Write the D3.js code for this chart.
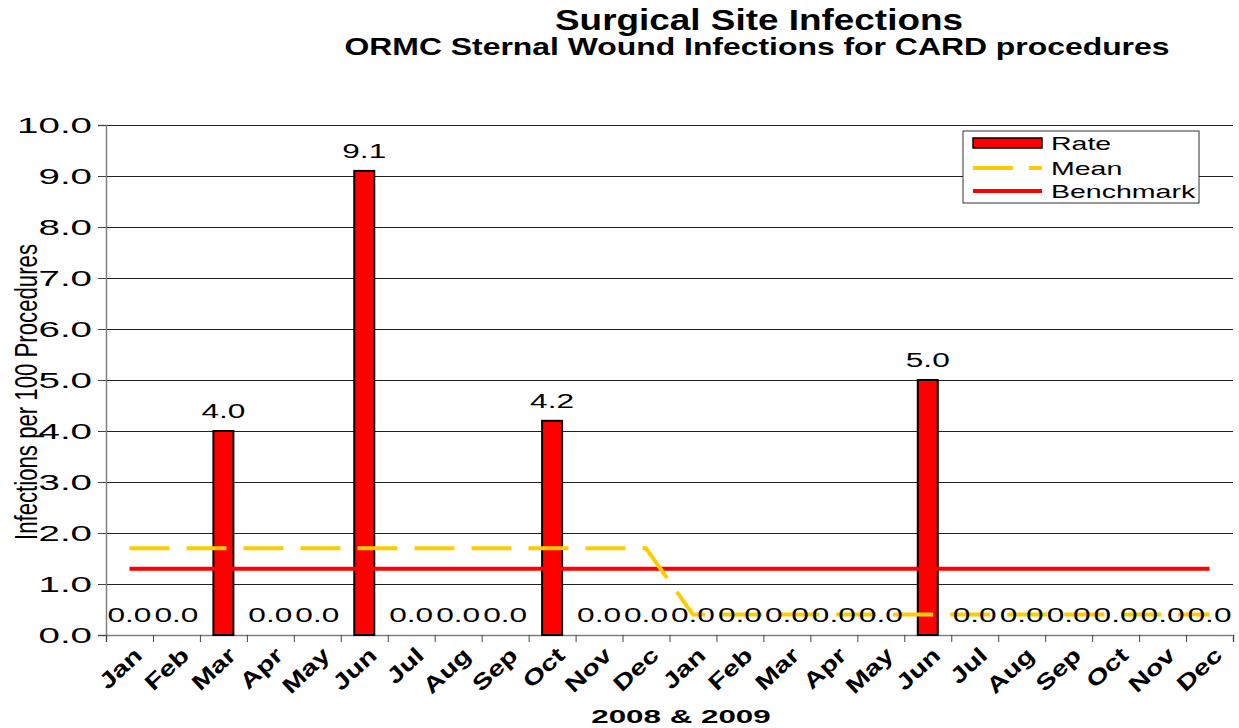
<!DOCTYPE html>
<html>
<head>
<meta charset="utf-8">
<script src="https://cdn.jsdelivr.net/npm/d3@7/dist/d3.min.js"></script>
<style>
  html, body { margin: 0; padding: 0; background: #fff; }
  svg { display: block; }
  text { font-family: "Liberation Sans", Arial, sans-serif; fill: #000; }
</style>
</head>
<body>
<svg id="chart" width="1239" height="728"></svg>
<script>
// ---- data ----
const categories = ["Jan","Feb","Mar","Apr","May","Jun","Jul","Aug","Sep","Oct","Nov","Dec",
                    "Jan","Feb","Mar","Apr","May","Jun","Jul","Aug","Sep","Oct","Nov","Dec"];
const rateValues = [0.0, 0.0, 4.0, 0.0, 0.0, 9.1, 0.0, 0.0, 0.0, 4.2, 0.0, 0.0,
                    0.0, 0.0, 0.0, 0.0, 0.0, 5.0, 0.0, 0.0, 0.0, 0.0, 0.0, 0.0];
const meanValues = [1.7, 1.7, 1.7, 1.7, 1.7, 1.7, 1.7, 1.7, 1.7, 1.7, 1.7, 1.7,
                    0.4, 0.4, 0.4, 0.4, 0.4, 0.4, 0.4, 0.4, 0.4, 0.4, 0.4, 0.4];
const benchmarkValues = [1.3, 1.3, 1.3, 1.3, 1.3, 1.3, 1.3, 1.3, 1.3, 1.3, 1.3, 1.3,
                         1.3, 1.3, 1.3, 1.3, 1.3, 1.3, 1.3, 1.3, 1.3, 1.3, 1.3, 1.3];
const yTickValues = [0, 1, 2, 3, 4, 5, 6, 7, 8, 9, 10];
const titleText = "Surgical Site Infections";
const subtitleText = "ORMC Sternal Wound Infections for CARD procedures";
const yAxisTitle = "Infections per 100 Procedures";
const xAxisTitle = "2008 & 2009";
const legendNames = ["Rate", "Mean", "Benchmark"];

// ---- layout ----
const svg = d3.select("#chart");
const plot = { left: 106, right: 1233, top: 125, bottom: 635 };

const idx = d3.range(categories.length);
const x = d3.scaleBand().domain(idx).range([plot.left, plot.right]).paddingInner(0).paddingOuter(0);
const xEdge = d3.scaleLinear().domain([0, categories.length]).range([plot.left, plot.right]);
const y = d3.scaleLinear().domain([0, 10]).range([plot.bottom, plot.top]);
const cx = i => x(i) + x.bandwidth() / 2;

// stretch helper: widen glyphs like the reference
function stretch(sel, factor) {
  sel.each(function() {
    const w = this.getComputedTextLength();
    d3.select(this).attr("textLength", w * factor).attr("lengthAdjust", "spacingAndGlyphs");
  });
}
function fitTo(sel, width) {
  sel.attr("textLength", width).attr("lengthAdjust", "spacingAndGlyphs");
}

// ---- gridlines ----
svg.append("g")
  .attr("transform", `translate(${plot.left},0)`)
  .call(d3.axisLeft(y).tickValues(yTickValues).tickSize(-(plot.right - plot.left)).tickFormat(""))
  .call(g => g.select(".domain").remove())
  .call(g => g.selectAll("line").attr("stroke", "#222").attr("stroke-width", 1));

// ---- y axis ----
const yAxisG = svg.append("g")
  .attr("transform", `translate(${plot.left},0)`)
  .call(d3.axisLeft(y).tickValues(yTickValues).tickSize(8).tickPadding(6).tickFormat(d3.format(".1f")));
yAxisG.select(".domain").attr("stroke", "#808080").attr("stroke-width", 1.5);
yAxisG.selectAll(".tick line").attr("stroke", "#444");
yAxisG.selectAll("text").attr("font-size", 22).attr("font-family", "Liberation Sans, Arial, sans-serif").attr("dy", "0.36em").call(stretch, 1.75);

// ---- x axis (ticks at category boundaries) ----
const xAxisG = svg.append("g")
  .attr("transform", `translate(0,${plot.bottom})`)
  .call(d3.axisBottom(xEdge).tickValues(d3.range(0, categories.length + 1)).tickSize(7).tickFormat(""));
xAxisG.select(".domain").attr("stroke", "#808080").attr("stroke-width", 1.5);
xAxisG.selectAll(".tick line").attr("stroke", "#444");

// x labels (rotated)
svg.append("g").selectAll("text")
  .data(idx)
  .join("text")
  .attr("transform", i => `translate(${cx(i) + 14},${plot.bottom + 22}) rotate(-43)`)
  .attr("text-anchor", "end")
  .attr("font-size", 22)
  .attr("font-weight", "bold")
  .text(i => categories[i])
  .call(stretch, 1.3);

// ---- bars ----
svg.append("g").selectAll("rect")
  .data(idx.filter(i => rateValues[i] > 0))
  .join("rect")
  .attr("x", i => cx(i) - 10)
  .attr("width", 20)
  .attr("y", i => y(rateValues[i]))
  .attr("height", i => y(0) - y(rateValues[i]))
  .attr("fill", "#FF0000")
  .attr("stroke", "#000")
  .attr("stroke-width", 2);

// ---- lines ----
const lineGen = vals => d3.line().x(i => cx(i)).y(i => y(vals[i]))(idx);
svg.append("path")
  .attr("d", lineGen(benchmarkValues))
  .attr("fill", "none").attr("stroke", "#FF0000").attr("stroke-width", 4);
svg.append("path")
  .attr("d", lineGen(meanValues))
  .attr("fill", "none").attr("stroke", "#FFCC00").attr("stroke-width", 4)
  .attr("stroke-dasharray", "40,17");

// ---- data labels ----
svg.append("g").selectAll("text")
  .data(idx)
  .join("text")
  .attr("x", i => cx(i))
  .attr("y", i => y(rateValues[i]) - 13)
  .attr("text-anchor", "middle")
  .attr("font-size", 20)
  .text(i => d3.format(".1f")(rateValues[i]))
  .call(stretch, 1.58);

// ---- titles ----
svg.append("text")
  .attr("x", 759).attr("y", 30)
  .attr("text-anchor", "middle")
  .attr("font-size", 30).attr("font-weight", "bold")
  .style("font-family", "'Liberation Sans Narrow', 'Liberation Sans', Arial, sans-serif")
  .text(titleText).call(fitTo, 408);
svg.append("text")
  .attr("x", 757).attr("y", 55)
  .attr("text-anchor", "middle")
  .attr("font-size", 24).attr("font-weight", "bold")
  .style("font-family", "'Liberation Sans Narrow', 'Liberation Sans', Arial, sans-serif")
  .text(subtitleText).call(fitTo, 825);

svg.append("text")
  .attr("transform", `translate(37,392) rotate(-90)`)
  .attr("text-anchor", "middle")
  .attr("font-size", 32)
  .style("font-family", "'Liberation Sans Narrow', 'Liberation Sans', Arial, sans-serif")
  .text(yAxisTitle).call(fitTo, 296);

svg.append("text")
  .attr("x", 681).attr("y", 723)
  .attr("text-anchor", "middle")
  .attr("font-size", 19).attr("font-weight", "bold")
  .text(xAxisTitle).call(stretch, 1.65);

// ---- legend ----
const lg = svg.append("g").attr("transform", "translate(963,131)");
lg.append("rect").attr("width", 236).attr("height", 72)
  .attr("fill", "#fff").attr("stroke", "#333").attr("stroke-width", 1);
const rowY = [12, 37, 60];
lg.append("rect").attr("x", 10).attr("y", rowY[0] - 5).attr("width", 69).attr("height", 10)
  .attr("fill", "#FF0000").attr("stroke", "#000").attr("stroke-width", 1.5);
lg.append("line").attr("x1", 10).attr("x2", 79).attr("y1", rowY[1]).attr("y2", rowY[1])
  .attr("stroke", "#FFCC00").attr("stroke-width", 4).attr("stroke-dasharray", "40,16");
lg.append("line").attr("x1", 10).attr("x2", 79).attr("y1", rowY[2]).attr("y2", rowY[2])
  .attr("stroke", "#FF0000").attr("stroke-width", 4);
lg.selectAll("text.lt").data(legendNames).join("text")
  .attr("class", "lt")
  .attr("x", 88).attr("y", (d, i) => rowY[i] + 7)
  .attr("font-size", 19)
  .text(d => d)
  .call(stretch, 1.5);
</script>
</body>
</html>
